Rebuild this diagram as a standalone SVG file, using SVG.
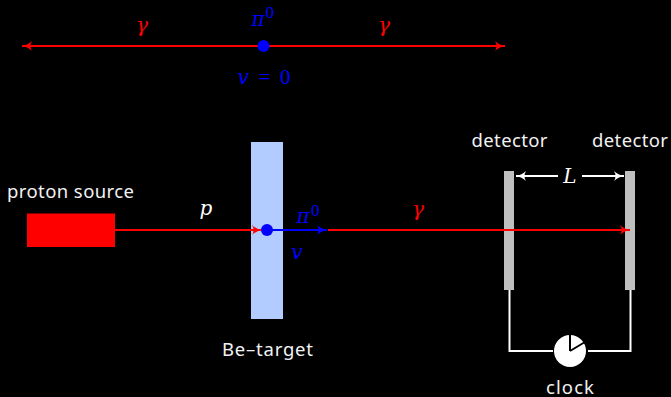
<svg xmlns="http://www.w3.org/2000/svg" width="671" height="397" viewBox="0 0 671 397">
<style>
.sans{font-family:"Noto Sans",sans-serif;font-size:18.500px;fill:#f2f2f2;text-anchor:middle}
.math{font-family:"DejaVu Serif",serif;font-style:italic;font-size:20px;text-anchor:middle}
.up{font-family:"Liberation Serif",serif;font-size:21px;text-anchor:middle}
.num{font-family:"Liberation Serif",serif;font-size:17px}
.red{fill:#f00}.blue{fill:#00f}.white{fill:#fff}
.rl{stroke:#f00;stroke-width:2;fill:none}
.bl{stroke:#00f;stroke-width:2;fill:none}
.wl{stroke:#fff;stroke-width:2;fill:none}
</style>
<defs>
<marker id="ar" markerUnits="userSpaceOnUse" markerWidth="14" markerHeight="14" refX="11" refY="7" orient="auto-start-reverse"><path d="M1 2 Q5 6 11 7 Q5 8 1 12 Q4 7 1 2Z" fill="#f00"/></marker>
<marker id="ab" markerUnits="userSpaceOnUse" markerWidth="14" markerHeight="14" refX="11" refY="7" orient="auto"><path d="M1 2 Q5 6 11 7 Q5 8 1 12 Q4 7 1 2Z" fill="#00f"/></marker>
<marker id="aw" markerUnits="userSpaceOnUse" markerWidth="14" markerHeight="14" refX="11" refY="7" orient="auto-start-reverse"><path d="M1 2 Q5 6 11 7 Q5 8 1 12 Q4 7 1 2Z" fill="#fff"/></marker>
</defs>
<rect width="671" height="397" fill="#000"/>

<g id="target"><rect x="251" y="142" width="32" height="177" fill="#b3ccff"/><text class="sans" x="267.500" y="356" textLength="91">Be–target</text></g>
<g id="source"><rect x="27" y="213.500" width="88" height="33.500" fill="#f00"/><text class="sans" x="70.500" y="198" textLength="127">proton source</text></g>
<g id="detector-1"><rect x="504" y="171" width="10" height="119" fill="#bfbfbf"/><text class="sans" x="509.500" y="147" textLength="76">detector</text></g>
<g id="detector-2"><rect x="625" y="171" width="10" height="119" fill="#bfbfbf"/><text class="sans" x="630" y="147" textLength="76">detector</text></g>

<g id="connectors">
<path class="rl" d="M22 46H505" marker-start="url(#ar)" marker-end="url(#ar)"/>
<path class="rl" d="M115 230H262" marker-end="url(#ar)"/>
<path class="bl" d="M267 230H327" marker-end="url(#ab)"/>
<path class="rl" d="M328 230H630" marker-end="url(#ar)"/>
<path class="wl" d="M516 176H558" marker-start="url(#aw)"/>
<path class="wl" d="M582 176H624" marker-end="url(#aw)"/>
<path class="wl" d="M509.500 290V351H553M630.500 290V351H588"/>
</g>

<g id="decay-point"><circle cx="263.500" cy="46" r="6" fill="#00f"/></g>
<g id="interaction-point"><circle cx="267" cy="230" r="6" fill="#00f"/></g>
<g id="clock">
<circle cx="570" cy="351" r="16" fill="#fff"/>
<path d="M570 351V335M570 351L585 342" stroke="#000" stroke-width="2" fill="none"/>
<text class="sans" x="570" y="393.500" textLength="48" font-size="18">clock</text>
</g>

<g id="labels">
<text class="math red" x="142" y="32">γ</text>
<text class="math red" x="384" y="32">γ</text>
<text class="math blue" x="258" y="26">π</text><text class="num blue" x="265.500" y="18">0</text>
<text class="up blue" x="264" y="84" textLength="53"><tspan class="math" font-style="italic">v</tspan> = 0</text>
<text class="math white" x="206" y="215">p</text>
<text class="math blue" x="303" y="223">π</text><text class="num blue" x="311" y="216">0</text>
<text class="math blue" x="297" y="259">v</text>
<text class="math red" x="418" y="216">γ</text>
<text class="math white" x="570" y="183">L</text>
</g>
</svg>
